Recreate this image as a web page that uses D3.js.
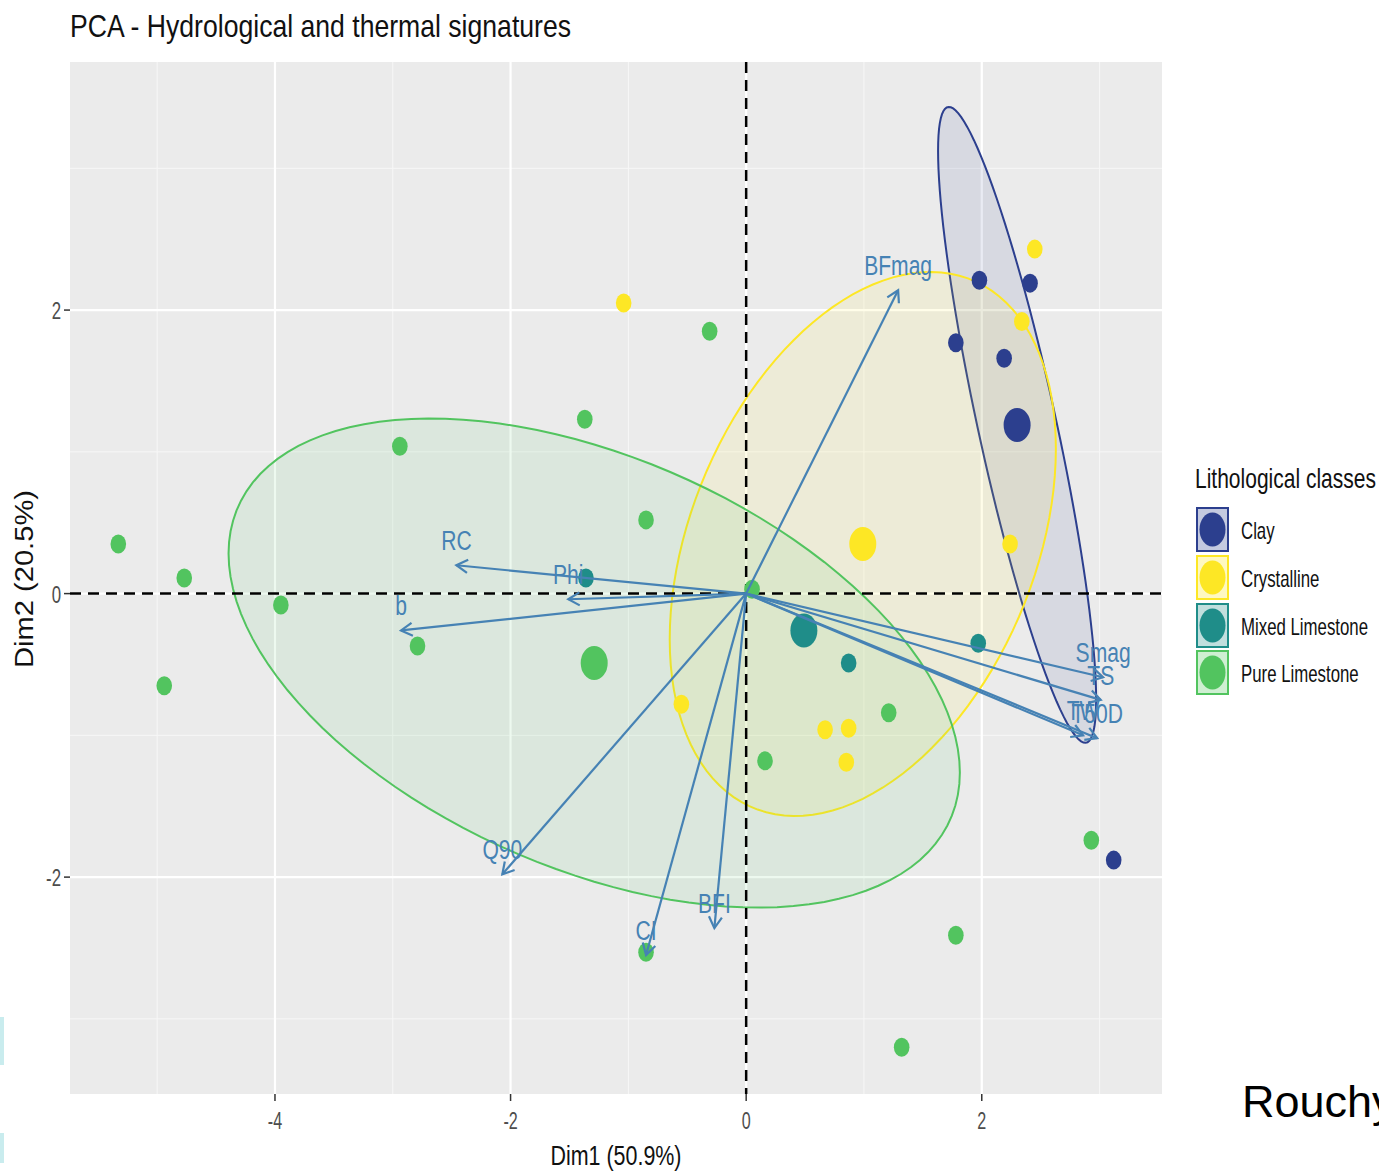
<!DOCTYPE html>
<html>
<head>
<meta charset="utf-8">
<script src="https://cdn.jsdelivr.net/npm/d3@7"></script>
<style>
  body { margin: 0; background: #fff; }
  svg { display: block; }
  text { font-family: "Liberation Sans", Arial, Helvetica, sans-serif; }
</style>
</head>
<body>
<svg id="chart" width="1379" height="1171"></svg>
<script>
// ---- data -------------------------------------------------------------
const classNames  = ["Clay", "Crystalline", "Mixed Limestone", "Pure Limestone"];
const classColors = ["#2c3f8e", "#fde725", "#1f8d89", "#52c45f"];

// individual catchments, [Dim1, Dim2]
const clayPoints        = [[1.98, 2.21], [2.41, 2.19], [1.78, 1.77], [2.19, 1.66], [3.12, -1.88]];
const crystallinePoints = [[2.45, 2.43], [2.34, 1.92], [-1.04, 2.05], [2.24, 0.35], [-0.55, -0.78],
                           [0.67, -0.96], [0.87, -0.95], [0.85, -1.19]];
const mixedPoints       = [[-1.36, 0.11], [0.87, -0.49], [1.97, -0.35]];
const purePoints        = [[-5.33, 0.35], [-4.77, 0.11], [-4.94, -0.65], [-3.95, -0.08], [-2.94, 1.04],
                           [-2.79, -0.37], [-1.37, 1.23], [-0.85, 0.52], [-0.31, 1.85], [0.05, 0.03],
                           [0.16, -1.18], [1.21, -0.84], [2.93, -1.74], [1.78, -2.41], [1.32, -3.20],
                           [-0.85, -2.53]];

// class barycentres
const classMeans = [[2.30, 1.19], [0.99, 0.35], [0.49, -0.26], [-1.29, -0.49]];

// concentration ellipses: half-extent on Dim1, half-extent on Dim2, correlation
const classEllipses = [[0.671, 2.243, -0.862], [1.639, 1.919, 0.350], null, [3.104, 1.725, -0.448]];

// variable loadings (arrows)
const varNames = ["BFmag", "RC", "Phi", "b", "Q90", "CI", "BFI", "Smag", "TS", "TW", "T50D"];
const varDim1  = [1.29, -2.46, -1.51, -2.93, -2.07, -0.85, -0.27, 3.03, 3.01, 2.86, 2.98];
const varDim2  = [2.14, 0.20, -0.04, -0.26, -1.98, -2.55, -2.36, -0.59, -0.75, -1.00, -1.02];

const xTicks = [-4, -2, 0, 2];
const yTicks = [-2, 0, 2];
const xMinor = [-5, -3, -1, 1, 3];
const yMinor = [-3, -1, 1, 3];

// ---- layout -----------------------------------------------------------
const panel = { left: 70, right: 1162, top: 62, bottom: 1094 };
const x = d3.scaleLinear().domain([-5.74, 3.53]).range([panel.left, panel.right]);
const y = d3.scaleLinear().domain([-3.53, 3.75]).range([panel.bottom, panel.top]);

const svg = d3.select("#chart");

// narrow the glyphs horizontally
function squeeze(sel, f) {
  sel.each(function () {
    const L = this.getComputedTextLength();
    this.setAttribute("textLength", L * f);
    this.setAttribute("lengthAdjust", "spacingAndGlyphs");
  });
}

// panel background and grid
svg.append("rect")
  .attr("x", panel.left).attr("y", panel.top)
  .attr("width", panel.right - panel.left).attr("height", panel.bottom - panel.top)
  .attr("fill", "#ebebeb");

const grid = svg.append("g");
grid.selectAll(".vminor").data(xMinor).join("line")
  .attr("x1", d => x(d)).attr("x2", d => x(d))
  .attr("y1", panel.top).attr("y2", panel.bottom)
  .attr("stroke", "#f7f7f7").attr("stroke-width", 1);
grid.selectAll(".hminor").data(yMinor).join("line")
  .attr("y1", d => y(d)).attr("y2", d => y(d))
  .attr("x1", panel.left).attr("x2", panel.right)
  .attr("stroke", "#f7f7f7").attr("stroke-width", 1);
grid.selectAll(".vmajor").data(xTicks).join("line")
  .attr("x1", d => x(d)).attr("x2", d => x(d))
  .attr("y1", panel.top).attr("y2", panel.bottom)
  .attr("stroke", "#ffffff").attr("stroke-width", 2.2);
grid.selectAll(".hmajor").data(yTicks).join("line")
  .attr("y1", d => y(d)).attr("y2", d => y(d))
  .attr("x1", panel.left).attr("x2", panel.right)
  .attr("stroke", "#ffffff").attr("stroke-width", 2.2);

// ellipses
function ellipsePath(c, e) {
  const [hx, hy, r] = e;
  const s = Math.sqrt(1 - r * r);
  const pts = d3.range(0, 361, 3).map(a => {
    const t = a * Math.PI / 180;
    return [x(c[0] + hx * Math.cos(t)), y(c[1] + hy * (r * Math.cos(t) + s * Math.sin(t)))];
  });
  return d3.line().curve(d3.curveLinearClosed)(pts);
}
const ellG = svg.append("g");
classEllipses.forEach((e, i) => {
  if (!e) return;
  ellG.append("path")
    .attr("d", ellipsePath(classMeans[i], e))
    .attr("fill", classColors[i]).attr("fill-opacity", 0.1)
    .attr("stroke", classColors[i]).attr("stroke-width", 2);
});

// reference lines at the origin
svg.append("line")
  .attr("x1", x(0)).attr("x2", x(0)).attr("y1", panel.top).attr("y2", panel.bottom)
  .attr("stroke", "#000").attr("stroke-width", 2.5).attr("stroke-dasharray", "11,7");
svg.append("line")
  .attr("y1", y(0)).attr("y2", y(0)).attr("x1", panel.left).attr("x2", panel.right)
  .attr("stroke", "#000").attr("stroke-width", 2.5).attr("stroke-dasharray", "11,7");

// individuals
const groups = [clayPoints, crystallinePoints, mixedPoints, purePoints];
const ptG = svg.append("g");
groups.forEach((pts, i) => {
  ptG.selectAll(null).data(pts).join("ellipse")
    .attr("cx", d => x(d[0])).attr("cy", d => y(d[1]))
    .attr("rx", 7.8).attr("ry", 9.5)
    .attr("fill", classColors[i]);
});
ptG.selectAll(".mean").data(classMeans).join("ellipse")
  .attr("cx", d => x(d[0])).attr("cy", d => y(d[1]))
  .attr("rx", 13.5).attr("ry", 17)
  .attr("fill", (d, i) => classColors[i]);

// variable arrows
const arrowCol = "#4682b4";
const arG = svg.append("g");
varNames.forEach((name, i) => {
  const x0 = x(0), y0 = y(0), x1 = x(varDim1[i]), y1 = y(varDim2[i]);
  const ang = Math.atan2(y1 - y0, x1 - x0);
  const L = 13, spread = Math.PI / 6;
  const h1 = [x1 - L * Math.cos(ang - spread), y1 - L * Math.sin(ang - spread)];
  const h2 = [x1 - L * Math.cos(ang + spread), y1 - L * Math.sin(ang + spread)];
  arG.append("line")
    .attr("x1", x0).attr("y1", y0).attr("x2", x1).attr("y2", y1)
    .attr("stroke", arrowCol).attr("stroke-width", 2.2);
  arG.append("path")
    .attr("d", `M${h1[0]},${h1[1]}L${x1},${y1}L${h2[0]},${h2[1]}`)
    .attr("fill", "none").attr("stroke", arrowCol).attr("stroke-width", 2.2);
});
arG.selectAll("text").data(varNames).join("text")
  .attr("x", (d, i) => x(varDim1[i]))
  .attr("y", (d, i) => y(varDim2[i]) - 15)
  .attr("text-anchor", "middle")
  .attr("font-size", 27)
  .attr("fill", arrowCol)
  .text(d => d)
  .call(squeeze, 0.78);

// axes
const axG = svg.append("g");
axG.selectAll(".xt").data(xTicks).join("line")
  .attr("x1", d => x(d)).attr("x2", d => x(d))
  .attr("y1", panel.bottom).attr("y2", panel.bottom + 7)
  .attr("stroke", "#333").attr("stroke-width", 1.5);
axG.selectAll(".xl").data(xTicks).join("text")
  .attr("x", d => x(d)).attr("y", panel.bottom + 35)
  .attr("text-anchor", "middle").attr("font-size", 23).attr("fill", "#4d4d4d")
  .text(d => d).call(squeeze, 0.7);
axG.selectAll(".yt").data(yTicks).join("line")
  .attr("x1", panel.left - 6).attr("x2", panel.left)
  .attr("y1", d => y(d)).attr("y2", d => y(d))
  .attr("stroke", "#333").attr("stroke-width", 1.5);
axG.selectAll(".yl").data(yTicks).join("text")
  .attr("x", panel.left - 9).attr("y", d => y(d) + 9)
  .attr("text-anchor", "end").attr("font-size", 24).attr("fill", "#4d4d4d")
  .text(d => d).call(squeeze, 0.7);

svg.append("text")
  .attr("x", (panel.left + panel.right) / 2).attr("y", 1165)
  .attr("text-anchor", "middle").attr("font-size", 27).attr("fill", "#111")
  .text("Dim1 (50.9%)")
  .attr("textLength", 131).attr("lengthAdjust", "spacingAndGlyphs");
svg.append("text")
  .attr("transform", "translate(33,579) rotate(-90)")
  .attr("text-anchor", "middle").attr("font-size", 25).attr("fill", "#111")
  .text("Dim2 (20.5%)")
  .attr("textLength", 178).attr("lengthAdjust", "spacingAndGlyphs");

// title
svg.append("text")
  .attr("x", 70).attr("y", 37)
  .attr("font-size", 32).attr("fill", "#111")
  .text("PCA - Hydrological and thermal signatures")
  .attr("textLength", 501).attr("lengthAdjust", "spacingAndGlyphs");

// legend
const lg = svg.append("g");
lg.append("text")
  .attr("x", 1195).attr("y", 488)
  .attr("font-size", 28).attr("fill", "#111")
  .text("Lithological classes")
  .attr("textLength", 181).attr("lengthAdjust", "spacingAndGlyphs");
const keyTop = [508, 556, 604, 651];
classNames.forEach((name, i) => {
  const ky = keyTop[i];
  lg.append("rect")
    .attr("x", 1197).attr("y", ky).attr("width", 31).attr("height", 43)
    .attr("fill", "#ffffff");
  lg.append("rect")
    .attr("x", 1197).attr("y", ky).attr("width", 31).attr("height", 43)
    .attr("fill", classColors[i]).attr("fill-opacity", 0.28)
    .attr("stroke", classColors[i]).attr("stroke-width", 2);
  lg.append("ellipse")
    .attr("cx", 1212.5).attr("cy", ky + 21.5).attr("rx", 13).attr("ry", 17)
    .attr("fill", classColors[i]);
  lg.append("text")
    .attr("x", 1241).attr("y", ky + 31)
    .attr("font-size", 24).attr("fill", "#111")
    .text(name).call(squeeze, 0.7);
});

// slide footer remnants
svg.append("text")
  .attr("x", 1242).attr("y", 1117)
  .attr("font-family", "'Open Sans', sans-serif")
  .attr("font-size", 45).attr("fill", "#000")
  .text("Rouchy");
svg.append("rect").attr("x", 0).attr("y", 1017).attr("width", 4).attr("height", 48).attr("fill", "#c9ecee");
svg.append("rect").attr("x", 0).attr("y", 1133).attr("width", 4).attr("height", 30).attr("fill", "#c9ecee");
</script>
</body>
</html>
